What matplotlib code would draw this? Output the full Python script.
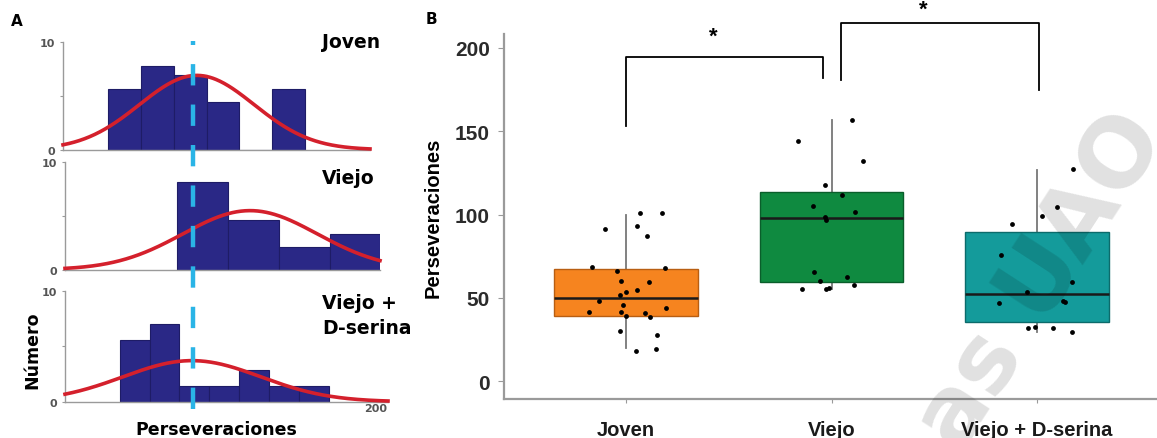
import numpy as np
import matplotlib
matplotlib.use("Agg")
import matplotlib.pyplot as plt

W, H = 1157, 439

# ---- Panel A: histograms with fitted normal curves
groups = ["Joven", "Viejo", "Viejo +\nD-serina"]
hist_edges = [
    [30, 50, 70, 90, 110, 130, 150],
    [72, 103, 134, 165, 196],
    [37, 55.2, 73.4, 91.6, 109.8, 128, 146.2, 164.4],
]
hist_counts = [
    [5.6, 7.8, 6.9, 4.4, 0, 5.6],
    [8.2, 4.6, 2.1, 3.3],
    [5.6, 7.0, 1.44, 1.44, 2.9, 1.44, 1.44],
]
fit_mean = [84, 116.5, 81]
fit_sd = [35, 41, 42]
fit_peak = [6.9, 5.5, 3.7]
ref_line = 81.5

# ---- Panel B: box plots + jittered points
cats = ["Joven", "Viejo", "Viejo + D-serina"]
box_q1 = [39, 59.5, 35.5]
box_med = [50, 98, 52]
box_q3 = [67, 113.5, 89.5]
box_lo = [20, 55.3, 29.2]
box_hi = [100, 157, 127]

joven = [68.3, 91.3, 100.7, 100.7, 92.9, 86.9, 66.3, 67.7, 59.9, 59.3, 51.8, 53.3, 54.7,
         48.2, 45.8, 43.8, 41.2, 41.6, 40.8, 38.8, 38.2, 29.8, 27.6, 18.2, 19.2]
joven_jit = [-0.167, -0.102, 0.068, 0.177, 0.055, 0.104, -0.045, 0.190, -0.024, 0.113, -0.029,
             0.0, 0.052, -0.131, -0.016, 0.193, -0.180, -0.024, 0.094, 0.0, 0.117, -0.028,
             0.151, 0.049, 0.145]
viejo = [157, 144.3, 131.9, 117.9, 111.9, 104.9, 101.3, 98.3, 96.7, 65.3, 62.3, 59.9, 57.8,
         55.3, 55.3, 55.7]
viejo_jit = [0.101, -0.161, 0.154, -0.034, 0.050, -0.088, 0.112, -0.034, -0.026, -0.083, 0.076,
             -0.055, 0.107, -0.143, -0.026, -0.010]
dser = [127.3, 104.3, 99.3, 94.1, 75.7, 59.7, 53.6, 46.7, 48.2, 47.6, 31.6, 32.6, 31.6, 29.2]
dser_jit = [0.174, 0.099, 0.023, -0.120, -0.175, 0.170, -0.050, -0.186, 0.125, 0.136, -0.042,
            -0.010, 0.079, 0.170]

# significance brackets: (x1, x2, left foot, top, right foot)
brackets = [(0, 0.958, 153, 194.6, 182), (1.045, 2.01, 181, 215, 175)]
stars = [(0.423, 207), (1.445, 223)]

box_colors = ["#F6841F", "#0F8A40", "#149B9B"]
box_edges = ["#B85E12", "#0A5E2B", "#0C6B6B"]
navy = "#2A2886"

fig = plt.figure(figsize=(W / 100, H / 100), dpi=100)


def px_axes(l, t, r, b):
    return fig.add_axes([l / W, 1 - b / H, (r - l) / W, (b - t) / H])


a_boxes = [(63, 43, 370, 150.7), (65, 163.3, 380, 270.7), (65, 291.7, 388, 402.7)]
k, x0 = 1.639, 59.1
axA = []
for i, (l, t, r, b) in enumerate(a_boxes):
    ax = px_axes(l, t, r, b)
    ax.patch.set_alpha(0)
    xmin, xmax = (l - x0) / k, (r - x0) / k
    e = np.array(hist_edges[i])
    ax.bar(e[:-1], hist_counts[i], width=np.diff(e), align="edge", color=navy,
           edgecolor="#1E1C66", linewidth=0.8, zorder=2)
    xs = np.linspace(xmin, xmax, 300)
    ys = fit_peak[i] * np.exp(-(xs - fit_mean[i]) ** 2 / (2 * fit_sd[i] ** 2))
    ax.plot(xs, ys, color="#D4202C", lw=2.6, zorder=4, clip_on=False)
    ax.set_xlim(xmin, xmax)
    ax.set_ylim(0, 10)
    for s in ["top", "right"]:
        ax.spines[s].set_visible(False)
    for s in ["left", "bottom"]:
        ax.spines[s].set_color("#9a9a9a")
        ax.spines[s].set_linewidth(1.0)
    ax.set_yticks([0, 5, 10], ["0", "", "10"])
    ax.tick_params(axis="y", length=2, color="#9a9a9a", labelsize=8, labelcolor="#555555", pad=4)
    for lab in ax.get_yticklabels():
        lab.set_fontweight("bold")
    ax.set_xticks([])
    axA.append(ax)

axA[2].set_xticks([200], ["200"])
axA[2].tick_params(axis="x", length=0, labelsize=8, labelcolor="#555555", pad=1)
for lab in axA[2].get_xticklabels():
    lab.set_fontweight("bold")
    lab.set_ha("right")

# dashed reference line through the three histograms
axA[2].axvline(ref_line, ymin=-0.07, ymax=(402.7 - 42) / 111, color="#2AB4E6", lw=3.2,
               dashes=(4.8, 4.3), clip_on=False, zorder=5)

lab_font = dict(family="DejaVu Sans", fontweight="bold", fontsize=13.5, color="black")
fig.text(322 / W, 1 - 42 / H, groups[0], ha="left", va="center", **lab_font)
fig.text(322 / W, 1 - 179 / H, groups[1], ha="left", va="center", **lab_font)
fig.text(322 / W, 1 - 304 / H, "Viejo +", ha="left", va="center", **lab_font)
fig.text(322 / W, 1 - 329 / H, "D-serina", ha="left", va="center", **lab_font)
fig.text(32 / W, 1 - 350 / H, "Número", rotation=90, ha="center", va="center",
         family="DejaVu Sans", fontweight="bold", fontsize=12.5)
fig.text(216 / W, 1 - 430 / H, "Perseveraciones", ha="center", va="center",
         family="DejaVu Sans", fontweight="bold", fontsize=12.5)
fig.text(17 / W, 1 - 21 / H, "A", ha="center", va="center", family="DejaVu Sans",
         fontweight="bold", fontsize=11)
fig.text(431 / W, 1 - 20 / H, "B", ha="center", va="center", family="DejaVu Sans",
         fontweight="bold", fontsize=11)

# ---- Panel B
axB = px_axes(504, 35, 1157, 400)
axB.patch.set_alpha(0)
stats = []
for i in range(3):
    stats.append(dict(med=box_med[i], q1=box_q1[i], q3=box_q3[i], whislo=box_lo[i],
                      whishi=box_hi[i], fliers=[]))
bp = axB.bxp(stats, positions=range(3), widths=0.7, patch_artist=True, showcaps=False,
             medianprops=dict(color="#1a1a1a", lw=1.8),
             whiskerprops=dict(color="#777777", lw=1.3))
for patch, fc, ec in zip(bp["boxes"], box_colors, box_edges):
    patch.set_facecolor(fc)
    patch.set_edgecolor(ec)
    patch.set_linewidth(1.0)
for w in bp["whiskers"]:
    w.set_zorder(1)

for i, (vals, jit) in enumerate([(joven, joven_jit), (viejo, viejo_jit), (dser, dser_jit)]):
    axB.scatter(i + np.array(jit), vals, s=12, color="black", zorder=4, linewidths=0)

for x1, x2, y1, ytop, y2 in brackets:
    axB.plot([x1, x1, x2, x2], [y1, ytop, ytop, y2], color="black", lw=1.3, clip_on=False)
for sx, sy in stars:
    axB.text(sx, sy, "*", ha="center", va="center", fontsize=16, fontweight="bold",
             family="Liberation Sans", clip_on=False)

axB.set_xlim(-0.594, 2.584)
axB.set_ylim(-10.8, 208.4)
axB.set_xticks(range(3), cats)
axB.set_yticks([0, 50, 100, 150, 200])
for s in ["top", "right"]:
    axB.spines[s].set_visible(False)
for s in ["left", "bottom"]:
    axB.spines[s].set_color("#9a9a9a")
    axB.spines[s].set_linewidth(1.6)
axB.tick_params(axis="y", length=4, color="#9a9a9a", labelsize=15, labelcolor="#2b2b2b", pad=6)
axB.tick_params(axis="x", length=3, color="#9a9a9a", labelsize=14.5, labelcolor="#1a1a1a", pad=12)
for lab in axB.get_xticklabels() + axB.get_yticklabels():
    lab.set_fontweight("bold")
    lab.set_family("Liberation Sans")
axB.set_ylabel("Perseveraciones", fontsize=14.5, fontweight="bold", family="Liberation Sans",
               labelpad=9)

# faint watermark over panel B
fig.text(1042 / W, 1 - 282 / H, "as UAO", rotation=57, rotation_mode="anchor",
         ha="center", va="center", fontsize=68, fontweight="bold", family="DejaVu Sans",
         color="black", alpha=0.12, zorder=10)

fig.savefig("out.png", dpi=100)
